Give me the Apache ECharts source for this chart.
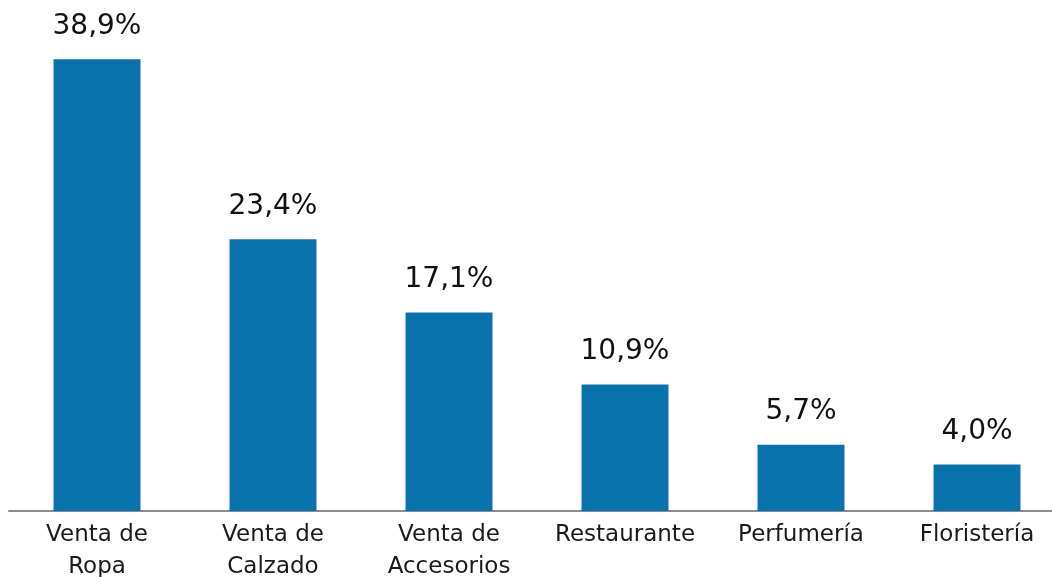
<!DOCTYPE html>
<html>
<head>
<meta charset="utf-8">
<script src="https://cdn.jsdelivr.net/npm/echarts@6/dist/echarts.min.js"></script>
<style>
  html, body { margin: 0; padding: 0; background: #fff; }
  #chart { width: 1052px; height: 577px; }
</style>
</head>
<body>
<div id="chart"></div>
<script>
// categorias y porcentajes
const categories = ["Venta de\nRopa", "Venta de\nCalzado", "Venta de\nAccesorios", "Restaurante", "Perfumería", "Floristería"];
const values = [38.9, 23.4, 17.1, 10.9, 5.7, 4.0];

const chart = echarts.init(document.getElementById("chart"));
chart.setOption({
  animation: false,
  grid: { left: 9, top: 0, width: 1056, bottom: 66, outerBoundsMode: "none", containLabel: false },
  xAxis: {
    type: "category",
    data: categories,
    axisLine: { lineStyle: { color: "#8c8c8c", width: 2 } },
    axisTick: { show: false },
    axisLabel: {
      color: "#1a1a1a",
      fontFamily: "DejaVu Sans",
      fontSize: 23,
      lineHeight: 32,
      margin: 8,
      interval: 0,
    },
  },
  yAxis: {
    type: "value",
    min: 0,
    max: 44,
    show: false,
  },
  series: [
    {
      type: "bar",
      data: values,
      barWidth: "49.4%",
      itemStyle: { color: "#0a72aa" },
      label: {
        show: true,
        position: "top",
        distance: 19,
        color: "#111",
        fontFamily: "DejaVu Sans",
        fontSize: 28,
        formatter: (p) => p.value.toFixed(1).replace(".", ",") + "%",
      },
    },
  ],
});
</script>
</body>
</html>
